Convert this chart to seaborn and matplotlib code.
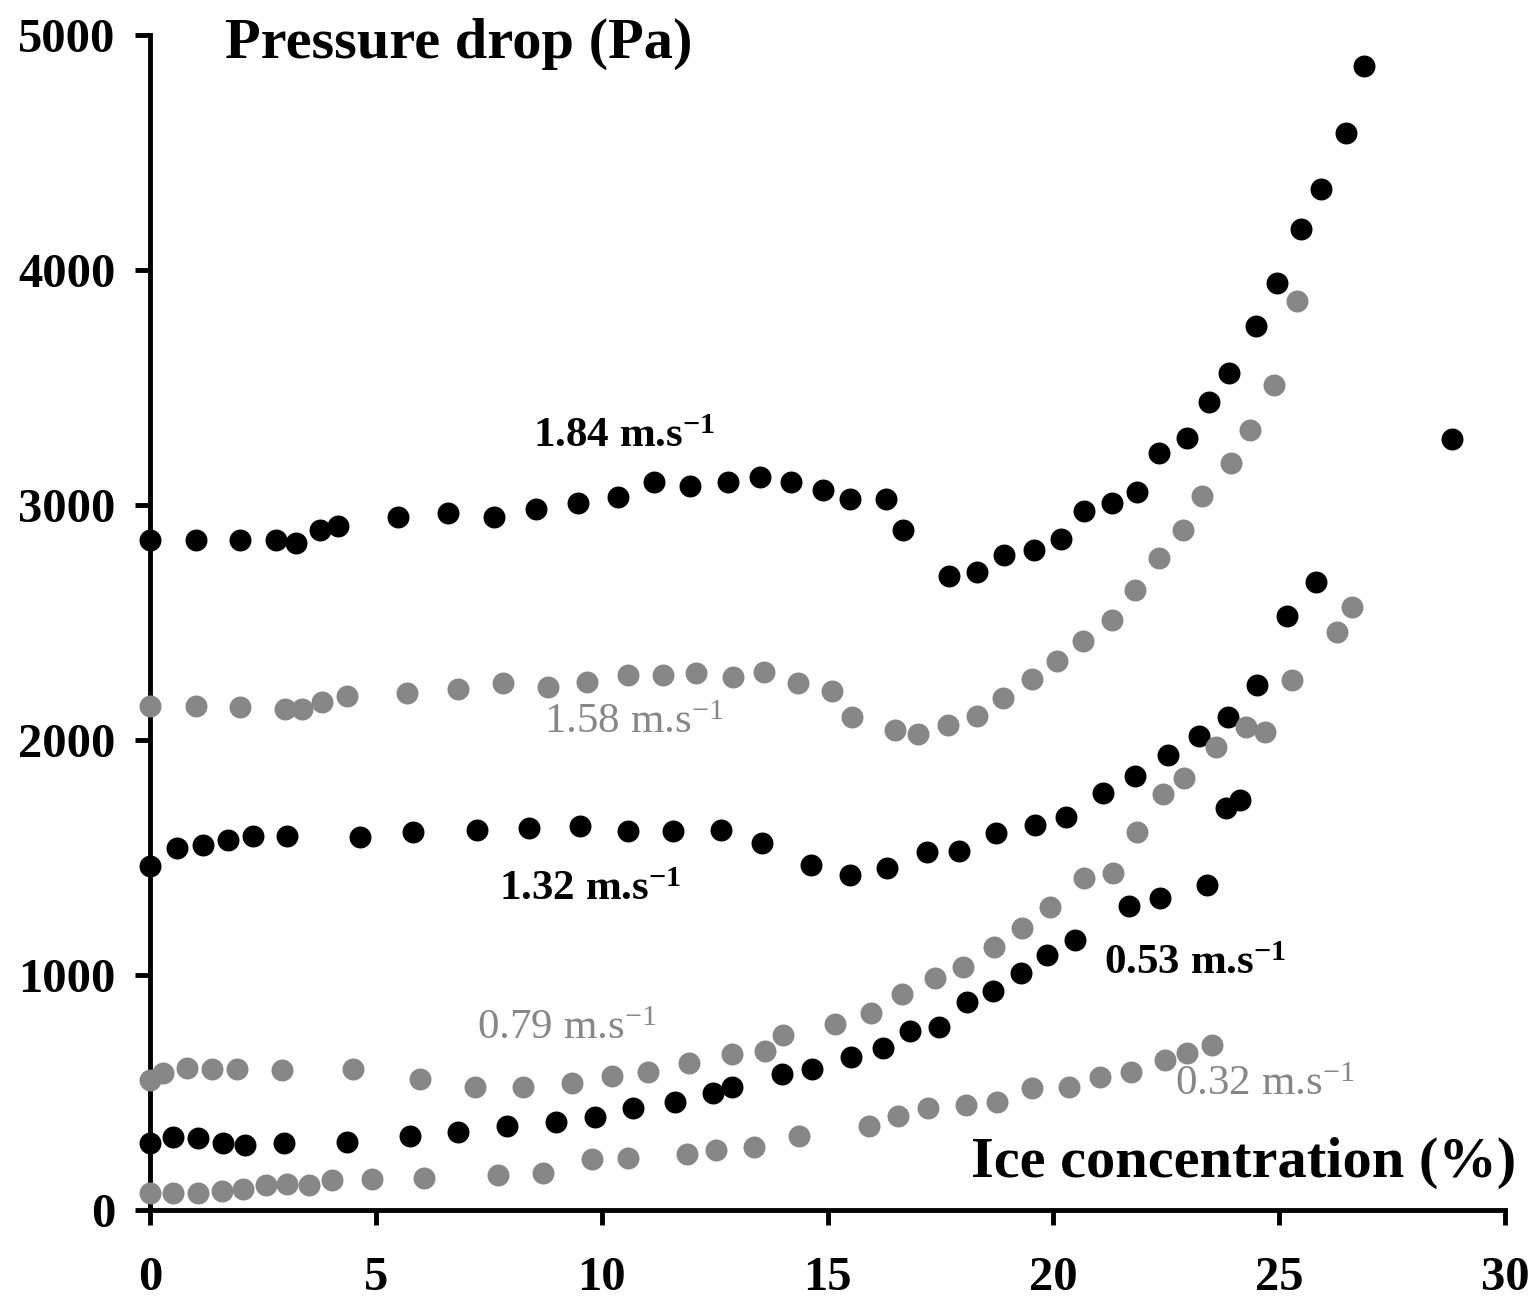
import numpy as np
import pandas as pd
import matplotlib
matplotlib.use('Agg')
import matplotlib.pyplot as plt
import seaborn as sns

# Data (ice concentration %, pressure drop Pa)

ice_184 = [0, 1.02, 2.0, 2.8, 3.23, 3.76, 4.16, 5.49, 6.6, 7.62, 8.55, 9.48, 10.36, 11.16,
           11.95, 12.8, 13.5, 14.2, 14.9, 15.5, 16.3, 16.67, 17.7, 18.3, 18.9, 19.57, 20.17,
           20.68, 21.3, 21.85, 22.34, 22.96, 23.44, 23.89, 24.49, 24.95, 25.48, 25.92, 26.48,
           26.88, 28.82]
dp_184 = [2850, 2850, 2850, 2850, 2838, 2893, 2910, 2949, 2966, 2949, 2983, 3008, 3034, 3098,
          3081, 3098, 3119, 3098, 3064, 3025, 3025, 2893, 2698, 2715, 2787, 2808, 2855,
          2974, 3008, 3055, 3221, 3285, 3438, 3561, 3761, 3944, 4174, 4344, 4583,
          4868, 3281]

ice_158 = [0, 1.02, 2.0, 2.99, 3.36, 3.8, 4.36, 5.69, 6.82, 7.81, 8.81, 9.67, 10.58, 11.36,
           12.09, 12.9, 13.6, 14.35, 15.1, 15.54, 16.5, 17.0, 17.67, 18.3, 18.88, 19.53,
           20.08, 20.66, 21.3, 21.8, 22.34, 22.87, 23.29, 23.93, 24.35, 24.88, 25.39]
dp_158 = [2145, 2145, 2140, 2132, 2132, 2162, 2187, 2200, 2217, 2242, 2225, 2247, 2276, 2276,
          2285, 2268, 2289, 2242, 2208, 2098, 2042, 2025, 2064, 2102, 2179, 2259,
          2336, 2421, 2510, 2638, 2774, 2893, 3038, 3178, 3319, 3510, 3868]

ice_132 = [0, 0.6, 1.17, 1.73, 2.28, 3.03, 4.65, 5.82, 7.24, 8.39, 9.52, 10.58, 11.58, 12.64,
           13.55, 14.63, 15.5, 16.32, 17.2, 17.91, 18.73, 19.59, 20.28, 21.1, 21.8, 22.54,
           23.22, 23.87, 24.5, 25.17, 25.81]
dp_132 = [1464, 1540, 1553, 1574, 1591, 1591, 1587, 1608, 1617, 1625, 1634, 1613, 1613, 1617,
          1562, 1468, 1425, 1455, 1523, 1527, 1604, 1638, 1672, 1774, 1847, 1936,
          2017, 2098, 2234, 2527, 2672]

ice_079 = [0, 0.29, 0.82, 1.37, 1.93, 2.92, 4.49, 5.98, 7.2, 8.26, 9.34, 10.23, 11.03, 11.93,
           12.88, 13.62, 14.01, 15.17, 15.96, 16.65, 17.38, 18.0, 18.69, 19.3, 19.92, 20.68,
           21.32, 21.85, 22.43, 22.89, 23.6, 24.26, 24.68, 25.28, 26.28, 26.61]
dp_079 = [553, 583, 604, 600, 600, 596, 600, 557, 523, 523, 540, 570, 587, 625,
          664, 677, 745, 791, 838, 919, 987, 1034, 1119, 1200, 1289, 1413,
          1434, 1608, 1770, 1838, 1970, 2055, 2034, 2255, 2459, 2566]

ice_053 = [0, 0.51, 1.06, 1.62, 2.1, 2.97, 4.36, 5.76, 6.82, 7.9, 9.0, 9.85, 10.69, 11.62,
           12.46, 12.88, 13.99, 14.66, 15.52, 16.23, 16.83, 17.47, 18.09, 18.66, 19.28,
           19.86, 20.48, 21.67, 22.36, 23.4, 23.82, 24.13]
dp_053 = [285, 311, 306, 285, 277, 285, 289, 315, 332, 357, 374, 396, 434, 460,
          498, 523, 579, 600, 651, 689, 762, 779, 885, 932, 1008,
          1085, 1149, 1294, 1328, 1383, 1710, 1745]

ice_032 = [0, 0.51, 1.06, 1.59, 2.06, 2.57, 3.03, 3.52, 4.03, 4.91, 6.07, 7.7, 8.7, 9.79,
           10.58, 11.89, 12.53, 13.37, 14.37, 15.92, 16.56, 17.22, 18.07, 18.75, 19.53,
           20.35, 21.03, 21.72, 22.47, 22.96, 23.51]
dp_032 = [72, 72, 72, 81, 89, 106, 111, 106, 128, 132, 136, 149, 157, 217,
          221, 238, 255, 268, 315, 357, 400, 434, 447, 460, 519,
          523, 566, 587, 638, 668, 702]

velocity_labels = ['1.84', '1.58', '1.32', '0.79', '0.53', '0.32']
x_ticks = [0, 5, 10, 15, 20, 25, 30]
y_ticks = [0, 1000, 2000, 3000, 4000, 5000]

# Styling

sns.set_style('ticks')
plt.rcParams['font.family'] = ['Liberation Serif', 'DejaVu Serif']
plt.rcParams['mathtext.fontset'] = 'custom'
plt.rcParams['mathtext.rm'] = 'Liberation Serif'
plt.rcParams['mathtext.bf'] = 'Liberation Serif:bold'
plt.rcParams['mathtext.it'] = 'Liberation Serif:italic'
plt.rcParams['text.color'] = 'black'
plt.rcParams['axes.edgecolor'] = 'black'
plt.rcParams['xtick.color'] = 'black'
plt.rcParams['ytick.color'] = 'black'

BLACK = '#000000'
GREY = '#878787'

series = [
    (ice_184, dp_184, BLACK),
    (ice_158, dp_158, GREY),
    (ice_132, dp_132, BLACK),
    (ice_079, dp_079, GREY),
    (ice_053, dp_053, BLACK),
    (ice_032, dp_032, GREY),
]

fig = plt.figure(figsize=(15.32, 13.01), dpi=100)
ax = fig.add_axes([0.0979, 0.0699, 0.8845, 0.9032])

for xs, ys, col in series:
    df = pd.DataFrame({'ice': xs, 'dp': ys})
    sns.scatterplot(data=df, x='ice', y='dp', color=col, s=250, linewidth=0,
                    ax=ax, legend=False, zorder=3, clip_on=False)

ax.set_xlim(0, 30)
ax.set_ylim(0, 5000)
ax.set_xticks(x_ticks)
ax.set_yticks(y_ticks)
ax.set_xticklabels([str(t) for t in x_ticks], fontsize=35, fontweight='bold')
ax.set_yticklabels([str(t) for t in y_ticks], fontsize=35, fontweight='bold')
ax.set_xlabel('')
ax.set_ylabel('')

sns.despine(ax=ax)
for side in ['left', 'bottom']:
    ax.spines[side].set_linewidth(3.5)
    ax.spines[side].set_color('black')
ax.tick_params(axis='both', width=3.5, length=11, color='black', labelcolor='black')
ax.tick_params(axis='x', pad=22)
ax.tick_params(axis='y', pad=14)

# axis titles inside the plot
ax.text(1.66, 4960, 'Pressure drop (Pa)', fontsize=42, fontweight='bold',
        ha='left', va='center', color='black')
ax.text(30.25, 200, 'Ice concentration (%)', fontsize=42, fontweight='bold',
        ha='right', va='center', color='black')

# velocity labels
label_pos = [(10.5, 3290), (10.7, 2075), (9.74, 1360), (9.23, 770), (23.15, 1045), (24.68, 535)]
label_col = [BLACK, GREY, BLACK, GREY, BLACK, GREY]
for lab, (lx, ly), col in zip(velocity_labels, label_pos, label_col):
    if col == BLACK:
        txt = lab + r' m.s$^{\mathbf{-1}}$'
        ax.text(lx, ly, txt, fontsize=31, fontweight='bold', color=col, ha='center', va='center')
    else:
        txt = lab + r' m.s$^{\mathrm{-1}}$'
        ax.text(lx, ly, txt, fontsize=31, color=col, ha='center', va='center')

fig.savefig('out.png', dpi=100)
